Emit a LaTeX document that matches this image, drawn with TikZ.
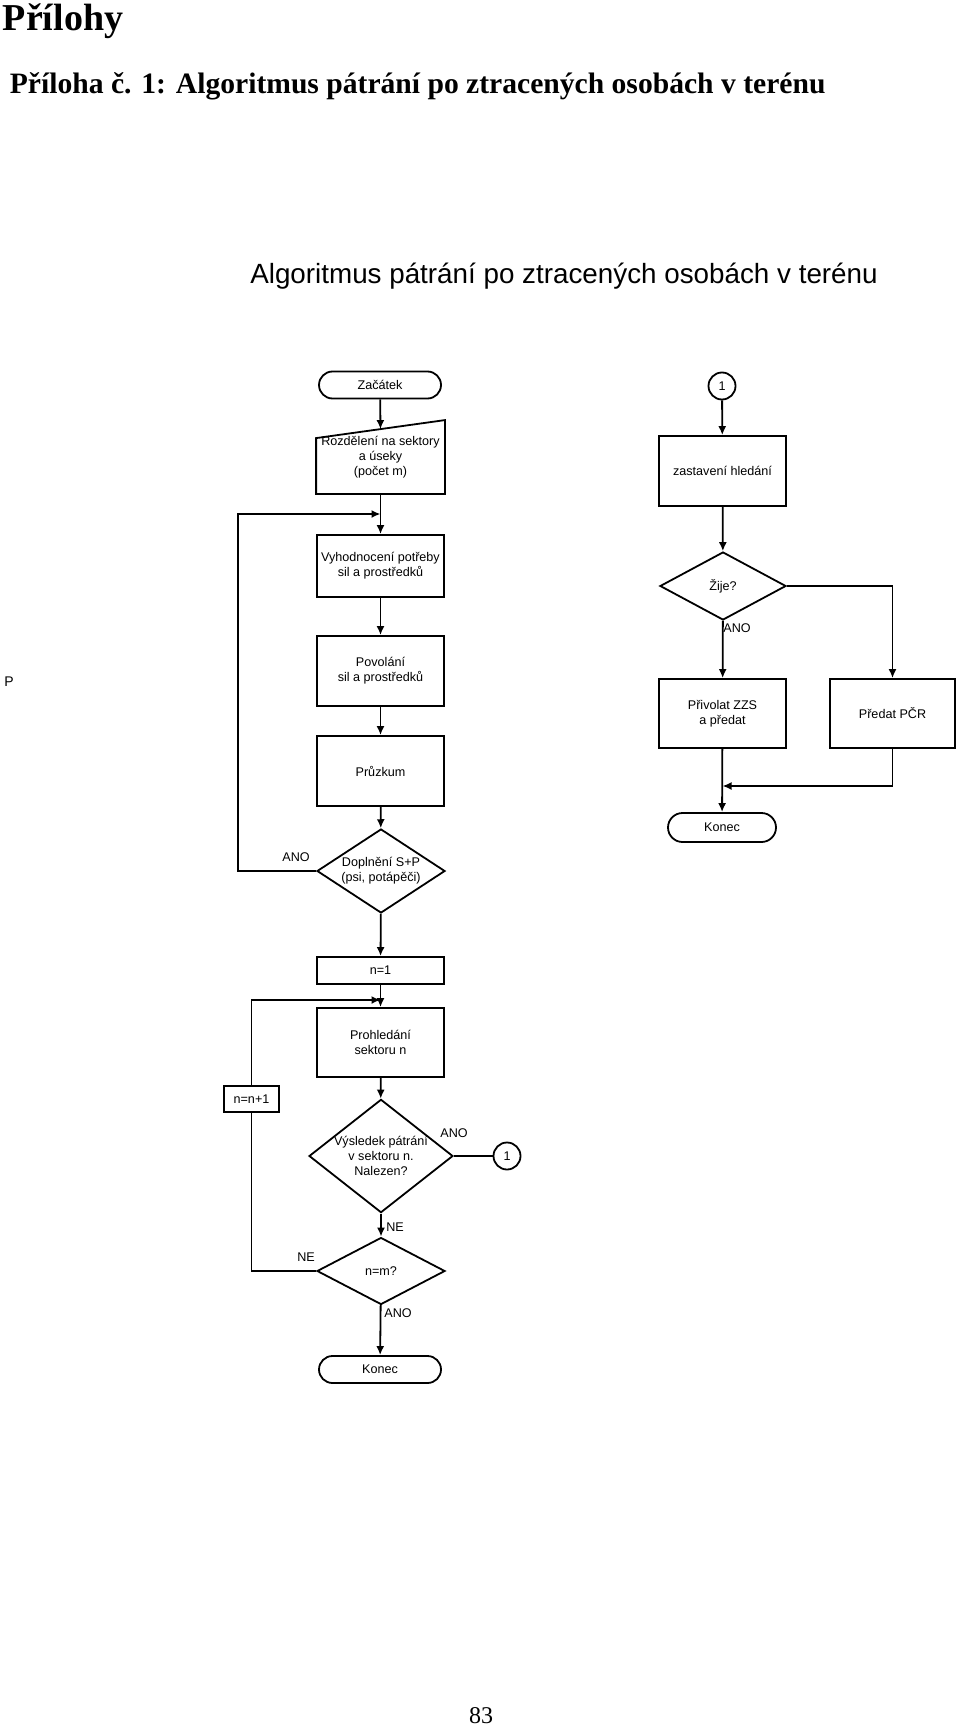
\documentclass[tikz,border=0pt]{standalone}
\usepackage{fontspec}
\setmainfont{Liberation Serif}
\setsansfont{Liberation Sans}
\usetikzlibrary{positioning, arrows.meta, shapes.geometric, shapes.misc, calc}

\begin{document}
\begin{tikzpicture}[
    x=0.5pt, y=-0.5pt,
    font=\sffamily\fontsize{6.3}{7.5}\selectfont,
    line width=0.9pt,
    block/.style={
        rectangle,
        draw,
        align=center,
        minimum width=63.5pt,
        minimum height=35pt,
        inner sep=1pt
    },
    terminal/.style={
        rounded rectangle,
        draw,
        minimum width=63pt,
        minimum height=13.5pt,
        inner sep=1pt
    },
    decision/.style={
        diamond,
        draw,
        align=center,
        aspect=1.4,
        inner sep=0pt,
        minimum width=64pt,
        minimum height=42pt
    },
    connector/.style={
        circle,
        draw,
        minimum size=13.5pt,
        inner sep=0pt
    },
    arrow/.style={
        -{Latex[length=4.5pt,width=4pt]}
    },
    tag/.style={inner sep=0pt}
]
\useasboundingbox (0,0) rectangle (960,1728);

% page headings
\node[tag, anchor=base west, font=\rmfamily\bfseries\fontsize{19}{22}\selectfont] (prilohy) at (2,31) {Přílohy};
\node[tag, anchor=base west, font=\rmfamily\bfseries\fontsize{14.8}{17}\selectfont] (priloha) at (9,94) {Příloha č. 1: Algoritmus pátrání po ztracených osobách v terénu};
\node[tag, anchor=base, font=\sffamily\fontsize{13.9}{16}\selectfont] (nadpis) at (564,284) {Algoritmus pátrání po ztracených osobách v terénu};

% left column
\node[terminal] (start) at (380,385) {Začátek};
\node[block, draw=none, minimum height=36pt] (rozdel) at (380.5,457) {Rozdělení na sektory\\a úseky\\(počet m)};
\draw (rozdel.south west) -- (rozdel.south east) -- (rozdel.north east) -- ($(rozdel.north west)+(0,18)$) -- cycle;
\coordinate (rozdelin) at ($(rozdel.north)+(0,9)$);
\node[block, minimum height=31pt] (vyhod) at (380.5,566) {Vyhodnocení potřeby\\sil a prostředků};
\node[block] (povolani) at (380.5,671) {Povolání\\sil a prostředků};
\node[block] (pruzkum) at (380.5,771) {Průzkum};
\node[decision] (doplneni) at (381,871) {Doplnění S+P\\(psi, potápěči)};
\node[tag] (ano1) at (296,857) {ANO};
\coordinate (zpet) at (238,514);

\node[block, minimum height=13.5pt] (n1) at (380.5,970.5) {n=1};
\node[block, minimum height=34.5pt] (prohled) at (380.5,1042.5) {Prohledání\\sektoru n};
\node[block, minimum width=27.5pt, minimum height=13pt] (nn1) at (251.5,1099) {n=n+1};
\coordinate (dalsi) at (251.5,1000);
\node[decision, aspect=1.27, minimum width=71pt, minimum height=56pt] (vysledek) at (381,1156) {Výsledek pátrání\\v sektoru n.\\Nalezen?};
\node[connector] (conn1b) at (507,1156) {1};
\node[tag] (ano2) at (454,1133) {ANO};
\node[tag] (ne1) at (395,1227) {NE};
\node[decision, minimum height=33.5pt] (nm) at (381,1271) {n=m?};
\node[tag] (ne2) at (306,1257) {NE};
\node[tag] (ano3) at (398,1313) {ANO};
\node[terminal] (konec2) at (380,1369.5) {Konec};

\draw[arrow] (start) -- (rozdelin);
\draw[arrow] (rozdel) -- (vyhod);
\draw[arrow] (vyhod) -- (povolani);
\draw[arrow] (povolani) -- (pruzkum);
\draw[arrow] (pruzkum) -- (doplneni);
\draw[arrow] (doplneni.west) -| (zpet) -- (rozdel.south |- zpet);
\draw[arrow] (doplneni) -- (n1);
\draw[arrow] (n1) -- (prohled);
\draw[arrow] (nn1) -- (dalsi) -- (prohled.north |- dalsi);
\draw[arrow] (prohled) -- (vysledek);
\draw (vysledek) -- (conn1b);
\draw[arrow] (vysledek) -- (nm);
\draw (nm.west) -| (nn1);
\draw[arrow] (nm) -- (konec2);

% right column
\node[connector] (conn1a) at (722,386) {1};
\node[block] (zastav) at (722.5,471) {zastavení hledání};
\node[decision, minimum width=63pt, minimum height=34pt] (zije) at (723,586) {Žije?};
\node[tag] (ano4) at (737,628) {ANO};
\node[block, minimum height=34.5pt] (privolat) at (722.5,713.5) {Přivolat ZZS\\a předat};
\node[block, minimum width=62.5pt, minimum height=34.5pt] (predat) at (892.5,713.5) {Předat PČR};
\coordinate (sber) at (722.5,786);
\node[terminal, minimum width=56pt, minimum height=14.5pt] (konec1) at (722,827.5) {Konec};

\draw[arrow] (conn1a) -- (zastav);
\draw[arrow] (zastav) -- (zije);
\draw[arrow] (zije) -- (privolat);
\draw[arrow] (zije.east) -| (predat);
\draw[arrow] (predat) |- (sber);
\draw[arrow] (privolat) -- (konec1);

% stray mark and page number
\node[tag, font=\sffamily\fontsize{7}{8}\selectfont] (pismeno) at (9,682) {P};
\node[tag, anchor=base, font=\rmfamily\fontsize{12}{14}\selectfont] (strana) at (481,1723) {83};

\end{tikzpicture}
\end{document}
